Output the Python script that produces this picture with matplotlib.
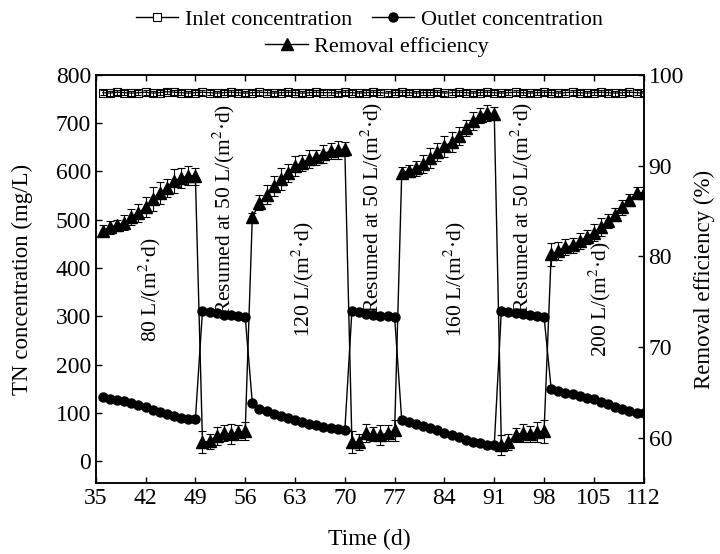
import numpy as np
import matplotlib
matplotlib.use('Agg')
import matplotlib.pyplot as plt
from matplotlib.lines import Line2D

plt.rcParams['font.family'] = ['Liberation Serif', 'DejaVu Serif']
plt.rcParams['mathtext.fontset'] = 'stix'

# Data
days = np.arange(36, 113)

inlet = [763, 762, 764, 763, 762, 763, 764, 762, 763, 765, 764, 763, 762, 763,
         764, 763, 762, 763, 764, 763, 762,
         763, 764, 763, 762, 763, 764, 763, 762, 763, 764, 763, 763, 762, 764,
         763, 762, 763, 764, 763, 762, 763,
         764, 763, 762, 763, 763, 764, 762, 763, 764, 763, 762, 763, 764, 763,
         762, 763, 764, 763, 762, 763, 764,
         763, 762, 763, 764, 763, 762, 763, 764, 763, 762, 763, 764, 763, 762]
inlet_err = 5

outlet = [133, 130, 127, 124, 121, 117, 112, 107, 102, 97, 93, 89, 87, 87,
          312, 309, 306, 302, 302, 300, 299,
          121, 109, 104, 99, 94, 89, 85, 81, 78, 75, 72, 69, 67, 64,
          312, 310, 304, 302, 300, 300, 299,
          85, 82, 78, 74, 69, 64, 59, 54, 50, 45, 41, 37, 33, 33,
          312, 310, 306, 304, 302, 300, 299,
          150, 145, 142, 139, 135, 132, 128, 123, 118, 113, 109, 104, 101, 101]

removal = [82.8, 83.2, 83.4, 83.7, 84.3, 84.8, 85.4, 86.3, 87.0, 87.5, 88.3, 88.6, 88.9, 88.8,
           59.5, 59.6, 60.2, 60.5, 60.4, 60.6, 60.7,
           84.3, 85.9, 86.8, 87.7, 88.5, 89.2, 89.9, 90.3, 90.7, 90.9, 91.3, 91.6, 91.7, 91.8,
           59.5, 59.5, 60.5, 60.4, 60.3, 60.5, 60.8,
           89.2, 89.4, 89.7, 90.2, 90.8, 91.5, 92.1, 92.6, 93.3, 94.1, 94.9, 95.5, 95.8, 95.7,
           59.2, 59.5, 60.3, 60.5, 60.4, 60.6, 60.7,
           80.2, 80.6, 81.0, 81.2, 81.7, 82.1, 82.6, 83.2, 83.9, 84.6, 85.4, 86.2, 87.0, 87.0]

removal_err = [0.6, 0.7, 0.6, 0.8, 0.9, 1.0, 1.1, 1.3, 1.2, 1.0, 1.3, 1.1, 1.0, 0.9,
               1.2, 0.8, 1.0, 0.9, 1.1, 0.8, 1.0,
               0.5, 0.8, 1.0, 1.1, 1.2, 1.0, 1.1, 0.9, 1.0, 0.8, 1.0, 0.9, 1.0, 0.8,
               1.2, 0.9, 1.0, 0.8, 1.1, 0.9, 1.2,
               0.6, 0.7, 0.8, 1.0, 1.1, 1.0, 1.2, 1.1, 1.0, 0.9, 1.0, 0.8, 0.9, 0.7,
               1.1, 0.9, 0.8, 1.0, 0.9, 1.1, 1.3,
               1.3, 1.0, 0.9, 0.8, 0.9, 0.8, 0.9, 1.0, 0.8, 0.7, 0.8, 0.7, 0.6, 0.6]

# phase annotations: text, day, TN level of text centre
annot_text = [r'80 L/(m$^2$·d)', r'Resumed at 50 L/(m$^2$·d)', r'120 L/(m$^2$·d)',
              r'Resumed at 50 L/(m$^2$·d)', r'160 L/(m$^2$·d)',
              r'Resumed at 50 L/(m$^2$·d)', r'200 L/(m$^2$·d)']
annot_day = [42.6, 53.0, 64.1, 73.8, 85.4, 94.9, 105.8]
annot_level = [355, 522, 378, 526, 376, 526, 335]

x_ticks = np.arange(35, 113, 7)

fig, ax = plt.subplots(figsize=(7.2, 5.54), dpi=100)
fig.subplots_adjust(left=0.133, right=0.894, top=0.865, bottom=0.128)
ax2 = ax.twinx()

# open squares: line and error bars show through them (the dense band at the top)
ax.errorbar(days, inlet, yerr=inlet_err, fmt='-s', color='black', mfc='none',
            mec='black', ms=5.5, mew=0.8, lw=0.9, capsize=2.5, elinewidth=0.7,
            capthick=0.7)
h_out, = ax.plot(days, outlet, '-o', color='black', ms=6.5, lw=1)
h_rem = ax2.errorbar(days, removal, yerr=removal_err, fmt='-^', color='black', ms=8,
                     lw=1, capsize=3, elinewidth=0.8, capthick=0.8)

for txt, d, lv in zip(annot_text, annot_day, annot_level):
    ax.text(d, lv, txt, rotation=90, ha='center', va='center', fontsize=15.5)

ax.set_xlim(35, 112)
ax.set_xticks(x_ticks)
ax.set_ylim(-45, 800)
ax.set_yticks(np.arange(0, 801, 100))
ax2.set_ylim(55, 100)
ax2.set_yticks([60, 70, 80, 90, 100])

ax.tick_params(direction='in', length=4, width=1, labelsize=17, top=True)
ax2.tick_params(direction='in', length=4, width=1, labelsize=17)
for a in (ax, ax2):
    for s in a.spines.values():
        s.set_linewidth(1.1)

ax.set_xlabel('Time (d)', fontsize=17, labelpad=14)
ax.set_ylabel('TN concentration (mg/L)', fontsize=16.5, labelpad=16)
ax2.set_ylabel('Removal efficiency (%)', fontsize=16.5, labelpad=7)

# legend key for the inlet series: white square on a line
h_in = Line2D([], [], color='black', lw=1, marker='s', ms=5.5, mfc='white',
              mec='black', mew=0.8)

fig.legend([h_in, h_out], ['Inlet concentration', 'Outlet concentration'],
           loc='center', bbox_to_anchor=(0.513, 0.965), ncol=2, frameon=False,
           fontsize=16, handlelength=1.9, handletextpad=0.3, columnspacing=0.9,
           borderpad=0, borderaxespad=0)
fig.legend([h_rem[0]], ['Removal efficiency'],
           loc='center', bbox_to_anchor=(0.524, 0.916), frameon=False,
           fontsize=16, handlelength=1.9, handletextpad=0.3,
           borderpad=0, borderaxespad=0)

fig.savefig('out.png', dpi=100)
